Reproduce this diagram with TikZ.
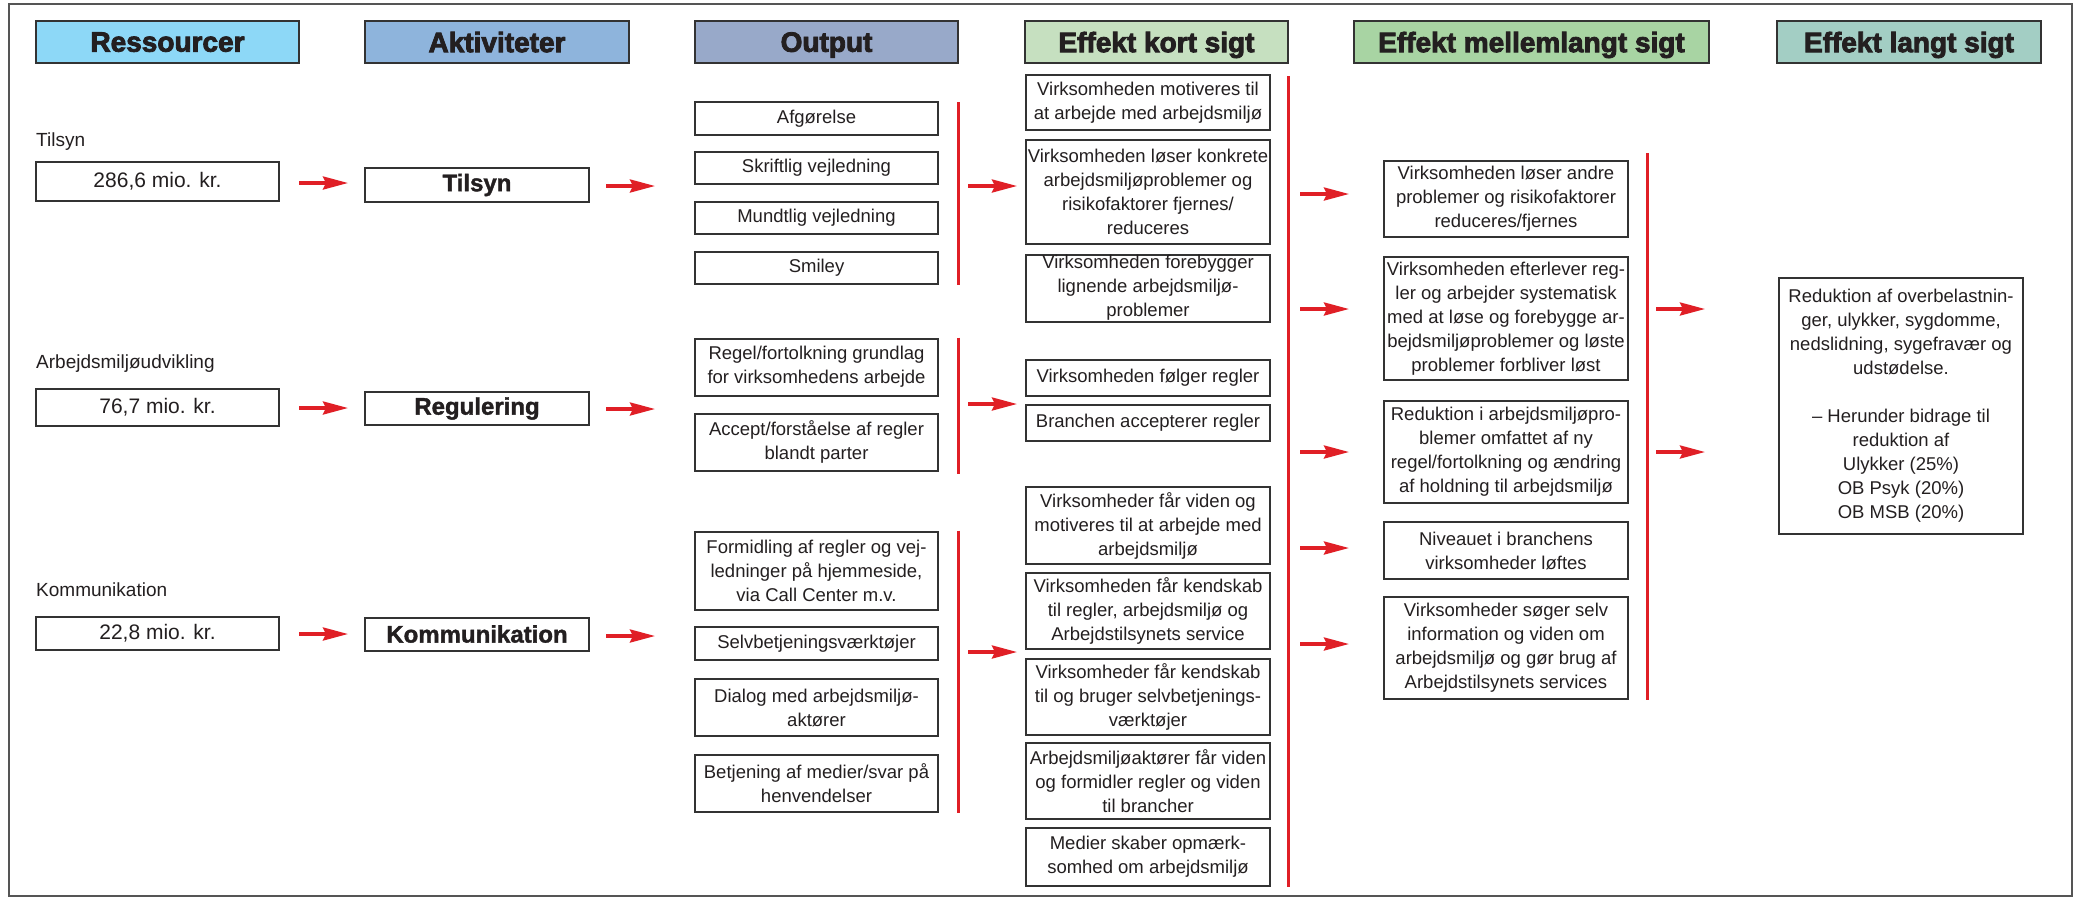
\documentclass[tikz,border=0pt]{standalone}
\usepackage{fontspec}
\setmainfont{Liberation Sans}
\newfontfamily\heavyfont{Liberation Sans}[UprightFont=*-Bold, FakeBold=3]
\newfontfamily\semiheavyfont{Liberation Sans}[UprightFont=*-Bold, FakeBold=1.5]
\usetikzlibrary{arrows.meta}
\definecolor{cRes}{HTML}{8DD8F7}
\definecolor{cAkt}{HTML}{8EB4DC}
\definecolor{cOut}{HTML}{98A9C9}
\definecolor{cKort}{HTML}{C6E0C0}
\definecolor{cMell}{HTML}{A8D4A3}
\definecolor{cLang}{HTML}{A3CEC4}
\definecolor{cRed}{HTML}{E01F26}
\definecolor{cBox}{HTML}{333333}
\definecolor{cText}{HTML}{231F20}
\definecolor{cFrame}{HTML}{555555}
\begin{document}
\begin{tikzpicture}[x=1pt,y=-1pt,
  box/.style={draw=cBox, line width=2pt, fill=white, inner sep=0pt, align=center,
    text=cText, font=\fontsize{18.5}{24}\selectfont},
  hdr/.style={draw=cBox, line width=2.2pt, inner sep=0pt, minimum height=42pt,
    text=cText, text depth=0pt, font=\heavyfont\fontsize{28}{30}\selectfont},
  resbox/.style={box, minimum width=243pt, font=\fontsize{21}{24}\selectfont},
  actbox/.style={box, minimum width=224pt, font=\semiheavyfont\fontsize{24}{26}\selectfont},
  outbox/.style={box, minimum width=243pt},
  kortbox/.style={box, minimum width=244pt},
  mellbox/.style={box, minimum width=244pt},
  lbl/.style={inner sep=0pt, text=cText, font=\fontsize{19}{22}\selectfont, anchor=base west},
  arr/.style={draw=cRed, line width=3.3pt, -{Stealth[length=25pt,width=13pt,inset=3pt]}},
  redline/.style={draw=cRed, line width=3pt}
]
\fill[white] (0,0) rectangle (2074,898);
\useasboundingbox (0,0) rectangle (2074,898);
\draw[cFrame, line width=2pt] (9,4) rectangle (2072,896);

% headers
\node[hdr, fill=cRes,  minimum width=263pt] (h1) at (167.5,42) {Ressourcer};
\node[hdr, fill=cAkt,  minimum width=264pt] (h2) at (497,42) {Aktiviteter};
\node[hdr, fill=cOut,  minimum width=263pt] (h3) at (826.5,42) {Output};
\node[hdr, fill=cKort, minimum width=263pt] (h4) at (1156.5,42) {Effekt kort sigt};
\node[hdr, fill=cMell, minimum width=355pt] (h5) at (1531.5,42) {Effekt mellemlangt sigt};
\node[hdr, fill=cLang, minimum width=264pt] (h6) at (1909,42) {Effekt langt sigt};

% resources
\node[lbl] (l1) at (36,146) {Tilsyn};
\node[lbl] (l2) at (36,368) {Arbejdsmiljøudvikling};
\node[lbl] (l3) at (36,596.5) {Kommunikation};
\node[resbox, minimum height=39pt] (r1) at (157.5,181) {286,6 mio. kr.};
\node[resbox, minimum height=37pt] (r2) at (157.5,407.5) {76,7 mio. kr.};
\node[resbox, minimum height=33pt] (r3) at (157.5,633) {22,8 mio. kr.};

% activities
\node[actbox, minimum height=34pt] (a1) at (477,185) {Tilsyn};
\node[actbox, minimum height=33pt] (a2) at (477,408.5) {Regulering};
\node[actbox, minimum height=33pt] (a3) at (477,634) {Kommunikation};

% output
\node[outbox, minimum height=33pt] (o1) at (816.5,118.5) {Afgørelse};
\node[outbox, minimum height=32pt] (o2) at (816.5,168) {Skriftlig vejledning};
\node[outbox, minimum height=32pt] (o3) at (816.5,218) {Mundtlig vejledning};
\node[outbox, minimum height=32pt] (o4) at (816.5,268) {Smiley};
\node[outbox, minimum height=57pt] (o5) at (816.5,367) {Regel/fortolkning grundlag\\for virksomhedens arbejde};
\node[outbox, minimum height=57pt] (o6) at (816.5,442) {Accept/forståelse af regler\\blandt parter};
\node[outbox, minimum height=78pt] (o7) at (816.5,570.5) {Formidling af regler og vej-\\ledninger på hjemmeside,\\via Call Center m.v.};
\node[outbox, minimum height=33pt] (o8) at (816.5,643.5) {Selvbetjeningsværktøjer};
\node[outbox, minimum height=57pt] (o9) at (816.5,707.5) {Dialog med arbejdsmiljø-\\aktører};
\node[outbox, minimum height=57pt] (o10) at (816.5,783.5) {Betjening af medier/svar på\\henvendelser};

% effekt kort sigt
\node[kortbox, minimum height=55pt] (k1) at (1148,102.5) {Virksomheden motiveres til\\at arbejde med arbejdsmiljø};
\node[kortbox, minimum height=104pt] (k2) at (1148,192) {Virksomheden løser konkrete\\arbejdsmiljøproblemer og\\risikofaktorer fjernes/\\reduceres};
\node[kortbox, minimum height=67pt] (k3) at (1148,288) {Virksomheden forebygger\\lignende arbejdsmiljø-\\problemer};
\node[kortbox, minimum height=36pt] (k4) at (1148,378) {Virksomheden følger regler};
\node[kortbox, minimum height=36pt] (k5) at (1148,423) {Branchen accepterer regler};
\node[kortbox, minimum height=77pt] (k6) at (1148,525.5) {Virksomheder får viden og\\motiveres til at arbejde med\\arbejdsmiljø};
\node[kortbox, minimum height=76pt] (k7) at (1148,610.5) {Virksomheden får kendskab\\til regler, arbejdsmiljø og\\Arbejdstilsynets service};
\node[kortbox, minimum height=76pt] (k8) at (1148,696.5) {Virksomheder får kendskab\\til og bruger selvbetjenings-\\værktøjer};
\node[kortbox, minimum height=76pt] (k9) at (1148,781) {Arbejdsmiljøaktører får viden\\og formidler regler og viden\\til brancher};
\node[kortbox, minimum height=58pt] (k10) at (1148,856.5) {Medier skaber opmærk-\\somhed om arbejdsmiljø};

% effekt mellemlangt sigt
\node[mellbox, minimum height=76pt] (m1) at (1506,199) {Virksomheden løser andre\\problemer og risikofaktorer\\reduceres/fjernes};
\node[mellbox, minimum height=123pt] (m2) at (1506,318.5) {Virksomheden efterlever reg-\\ler og arbejder systematisk\\med at løse og forebygge ar-\\bejdsmiljøproblemer og løste\\problemer forbliver løst};
\node[mellbox, minimum height=102pt] (m3) at (1506,452) {Reduktion i arbejdsmiljøpro-\\blemer omfattet af ny\\regel/fortolkning og ændring\\af holdning til arbejdsmiljø};
\node[mellbox, minimum height=57pt] (m4) at (1506,550.5) {Niveauet i branchens\\virksomheder løftes};
\node[mellbox, minimum height=102pt] (m5) at (1506,648) {Virksomheder søger selv\\information og viden om\\arbejdsmiljø og gør brug af\\Arbejdstilsynets services};

% effekt langt sigt
\node[box, minimum width=244pt, minimum height=256pt] (g1) at (1901,406) {Reduktion af overbelastnin-\\ger, ulykker, sygdomme,\\nedslidning, sygefravær og\\udstødelse.\\[24pt]– Herunder bidrage til\\reduktion af\\Ulykker (25\%)\\OB Psyk (20\%)\\OB MSB (20\%)};

% red bracket lines
\draw[redline] ([xshift=19pt,yshift=-1pt]o1.north east) -- ([xshift=19pt]o4.south east);
\draw[redline] ([xshift=19pt]o5.north east) -- ([xshift=19pt,yshift=-2pt]o6.south east);
\draw[redline] ([xshift=19pt]o7.north east) -- ([xshift=19pt]o10.south east);
\draw[redline] ([xshift=17pt,yshift=-2pt]k1.north east) -- ([xshift=17pt]k10.south east);
\draw[redline] ([xshift=18pt,yshift=7pt]m1.north east) -- ([xshift=18pt]m5.south east);

% arrows
\foreach \n/\xa/\ya in {1/299/183, 2/299/408, 3/299/634,
                        4/606/186, 5/606/409, 6/606/636,
                        7/968/186, 8/968/404, 9/968/652,
                        10/1300/194, 11/1300/309, 12/1300/452, 13/1300/548, 14/1300/644,
                        15/1656/309, 16/1656/452}{
  \coordinate (as\n) at (\xa,\ya);
  \coordinate (ae\n) at (\xa+49,\ya);
  \draw[arr] (as\n) -- (ae\n);
}
\end{tikzpicture}
\end{document}
